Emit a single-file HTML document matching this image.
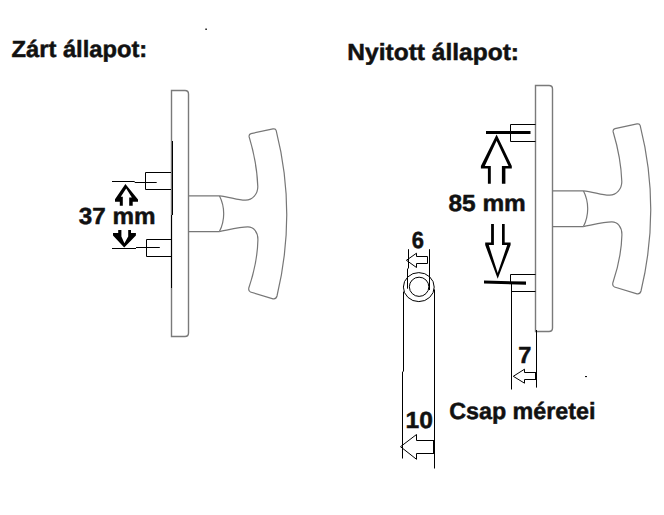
<!DOCTYPE html>
<html><head><meta charset="utf-8">
<style>
html,body{margin:0;padding:0;background:#fff;}
body{width:664px;height:515px;overflow:hidden;position:relative;}
svg{position:absolute;left:0;top:0;}
text{text-rendering:geometricPrecision;font-family:"Liberation Sans",sans-serif;font-weight:bold;fill:#111;stroke:#111;stroke-width:0.5px;}
</style></head><body>
<svg width="664" height="515" viewBox="0 0 664 515">
<defs>
<g id="handle" fill="none" stroke="#777" stroke-width="1.2">
  <path d="M171.5,336.5 V90.5 H185 Q188.5,90.5 188.5,94 V333 Q188.5,336.5 185,336.5 Z" stroke="#7a7a7a" stroke-width="1.4"/>
  <path d="M188.5,195.8 H219.4 M188.5,231.6 H219.4"/>
  <path d="M219.4,195.8 A39.4,39.4 0 0 1 219.4,231.6"/>
  <path d="M219.4,195.8 C229,196.6 238,200.4 245.6,200.2 C252.5,200 257.9,194 257.8,186.5 Q257,163 249.2,137 Q248.6,134.2 251,133.6 L273,128.9 Q275.6,128.3 276.2,130.6 Q296.9,213 277,296 Q276,299.4 273,298.8 L250.5,292 Q248.2,291 248.8,288 Q257.4,262.5 257.9,240 C258.1,232 253.5,226.8 247.7,226.9 C240,227 228,230 219.4,231.6"/>
</g>
</defs>
<use href="#handle"/>
<use href="#handle" transform="translate(364,-5)"/>

<!-- titles -->
<text x="11.51" y="56.86" font-size="23.4" textLength="135.77" lengthAdjust="spacingAndGlyphs">Zárt állapot:</text>
<text x="347.36" y="59.56" font-size="23.4" textLength="171.64" lengthAdjust="spacingAndGlyphs">Nyitott állapot:</text>
<rect x="205.3" y="28.5" width="1.6" height="1.5" fill="#222"/>
<rect x="585" y="376" width="2" height="1.1" fill="#111"/>

<!-- left dims -->
<g fill="none" stroke="#000" stroke-width="1">
  <path d="M172.5,141 V215 M171.5,215 V288"/>
  <path d="M171,172.5 H145.5 V189.5 H171"/>
  <path d="M112,181.5 H134.7 M134.7,182.5 H156.7"/>
  <path d="M171,239.5 H146.5 V256.5 H171"/>
  <path d="M112,248.5 H136 M136,247.5 H159.8"/>
</g>
<g fill="#000" stroke="none">
  <path d="M125.4,184 L138,199.4 V201.7 H132.7 V205.7 H129.2 V197.4 H131.9 L126.2,188.6 L120.8,196.8 H122.8 V205.7 H119.8 V201.7 H115 V199.2 Z"/>
  <path d="M118.2,230.1 H121.4 V236.5 L124.4,243.2 L128.2,236.5 V230.1 H131 V233.1 H135.9 V235.5 L124.2,247.6 L113,235.5 V233.1 H118.2 Z"/>
</g>
<text x="78.79" y="223.9" font-size="23.4" textLength="76.73" lengthAdjust="spacingAndGlyphs">37 mm</text>

<!-- right dims -->
<g fill="none" stroke="#000" stroke-width="1">
  <path d="M535.5,124.5 H510.5 V141.5 H535.5"/>
  <path d="M535.5,274.5 H510.5 V282 M511.5,282 V389.5 M511,291.5 H535.5"/>
  <path d="M536.5,330 V387.6"/>
  <path d="M535.5,372.5 H524.5 V369.2 L513.3,376.3 L524.5,383.2 V379.5 H535.5"/>
</g>
<rect x="535" y="372" width="1.2" height="8" fill="#000"/>
<g fill="#000">
  <rect x="486" y="131" width="44.5" height="3"/>
  <path d="M484,280.6 L526,281.6 V284.8 L484,283.4 Z"/>
</g>
<g fill="#000">
  <path d="M496.6,134.4 L511.8,165.9 V168.6 H505.4 V183.7 H501.9 V165.9 H508.5 L496.6,140.8 L484.8,165.9 H490.8 V183.7 H487.9 V168.6 H480.9 V165.9 Z"/>
  <path d="M491.1,224.1 H493.9 V245.1 H488.8 L497.7,273 L507.2,245.1 H502 V224.1 H504.7 V242.4 H510.6 V245.1 L497.7,278.7 L485.2,245.1 V242.4 H491.1 Z"/>
</g>
<text x="448.53" y="211.09" font-size="23.4" textLength="77.3" lengthAdjust="spacingAndGlyphs">85 mm</text>
<text x="518.26" y="363.46" font-size="23.4" textLength="13.12" lengthAdjust="spacingAndGlyphs">7</text>

<!-- pin -->
<g fill="none" stroke="#000" stroke-width="1">
  <path d="M408.5,249.2 V268.5 M407.5,268.5 V288.7 M429.5,249.2 V290"/>
  <path d="M427.5,256.5 H416.5 V253.2 L406.4,260.3 L416.5,267.5 V263.5 H427.5 Z"/>
  <ellipse cx="418.8" cy="287.1" rx="15.4" ry="14.5"/>
  <ellipse cx="419.1" cy="286.8" rx="9.75" ry="9.6"/>
  <path d="M403.5,291.6 V371.6 M402.5,371.6 V458.5 M434.5,289.4 V468.5"/>
  <path d="M433.5,440.5 H416.5 V434.5 L400.5,446.7 L416.5,459.3 V453.5 H433.5"/>
</g>
<rect x="433" y="440" width="2" height="14" fill="#000"/>
<text x="411.79" y="247.91" font-size="23.4" textLength="12.19" lengthAdjust="spacingAndGlyphs">6</text>
<text x="405.55" y="428.12" font-size="23.4" textLength="27.34" lengthAdjust="spacingAndGlyphs">10</text>
<text x="449.17" y="419.14" font-size="23.4" textLength="146.35" lengthAdjust="spacingAndGlyphs">Csap méretei</text>
</svg>
</body></html>
